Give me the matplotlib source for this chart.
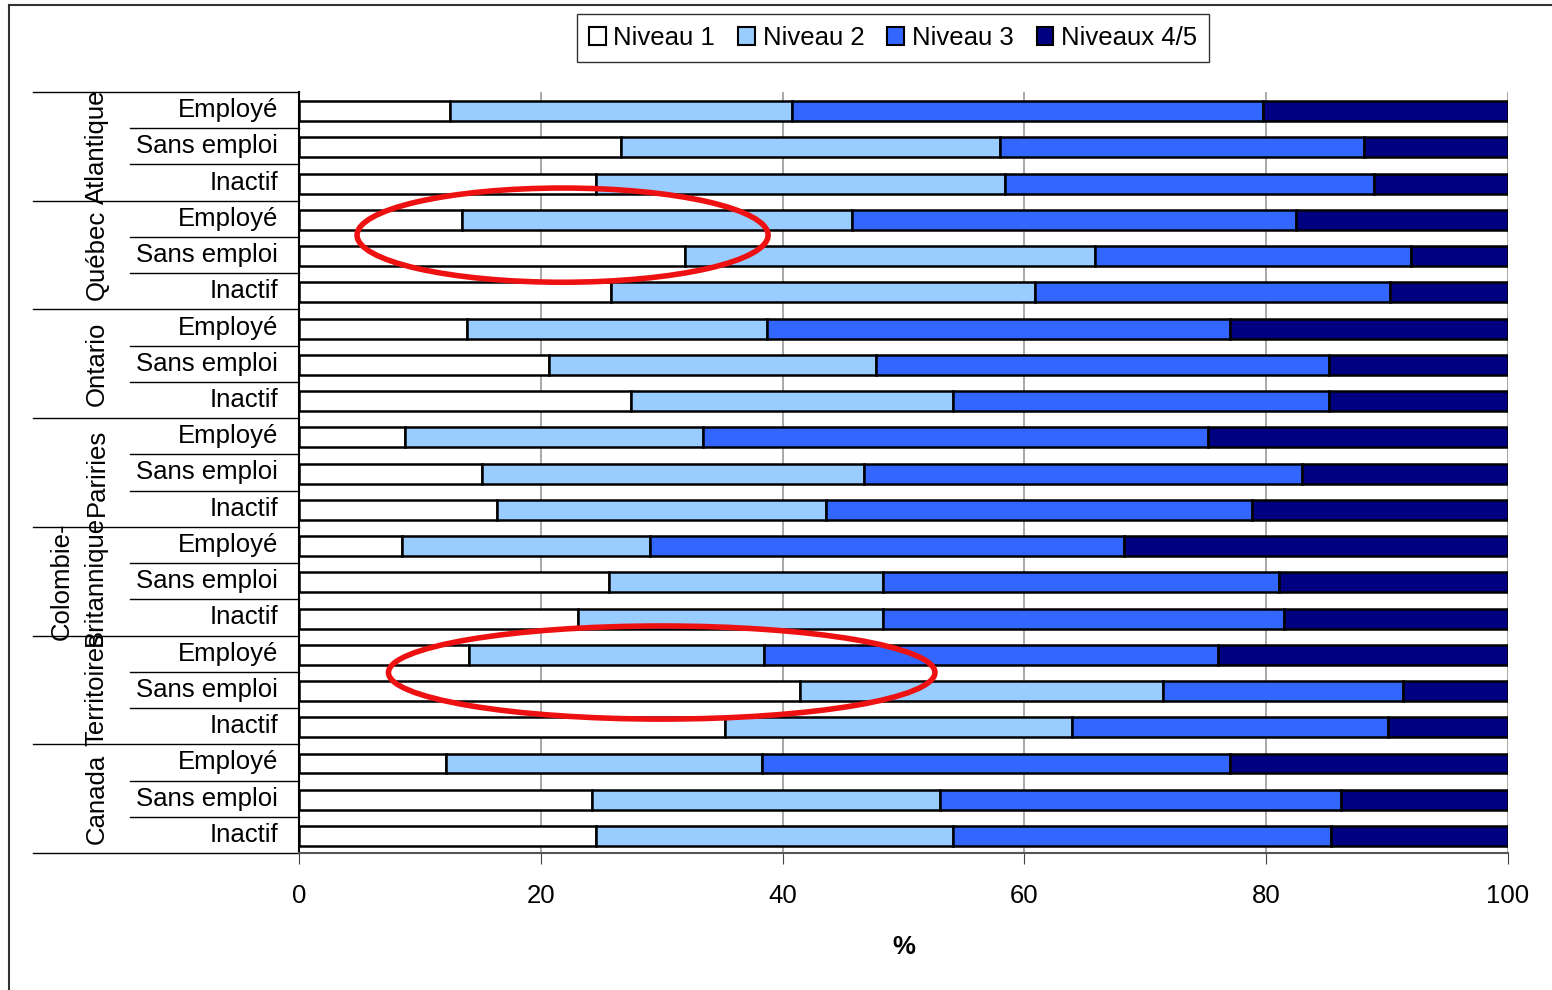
import numpy as np
import matplotlib
matplotlib.use("Agg")
import matplotlib.pyplot as plt
from matplotlib.patches import Ellipse, Patch
from matplotlib.lines import Line2D
import matplotlib.transforms as mtransforms

plt.rcParams['font.family'] = ['Liberation Sans', 'DejaVu Sans']

groups = ['Atlantique', 'Québec', 'Ontario', 'Pariries', 'Colombie-\nBritannique', 'Territoires', 'Canada']
statuses = ['Employé', 'Sans emploi', 'Inactif']
series = ['Niveau 1', 'Niveau 2', 'Niveau 3', 'Niveaux 4/5']
colors = ['#FFFFFF', '#99CCFF', '#3366FF', '#000080']

# cumulative boundaries (end of Niveau 1, 2, 3); Niveaux 4/5 runs to 100
cum1 = [12.5, 26.6, 24.6, 13.5, 31.9, 25.8, 13.9, 20.7, 27.5, 8.8, 15.1, 16.4,
        8.5, 25.6, 23.1, 14.1, 41.4, 35.2, 12.2, 24.2, 24.6]
cum2 = [40.8, 58.0, 58.4, 45.7, 65.8, 60.9, 38.7, 47.7, 54.1, 33.4, 46.7, 43.6,
        29.0, 48.3, 48.3, 38.5, 71.5, 63.9, 38.3, 53.0, 54.1]
cum3 = [79.7, 88.1, 88.9, 82.5, 92.0, 90.2, 77.0, 85.2, 85.2, 75.2, 83.0, 78.8,
        68.2, 81.1, 81.5, 76.0, 91.3, 90.1, 77.0, 86.2, 85.4]

c1 = np.array(cum1)
c2 = np.array(cum2)
c3 = np.array(cum3)
vals = [c1, c2 - c1, c3 - c2, 100 - c3]

FS = 18.5

fig = plt.figure(figsize=(15.52, 9.90), dpi=100)
ax = fig.add_axes([299/1552, 1-853/990, 1209/1552, 761/990])

y = np.arange(len(c1))
left = np.zeros(len(c1))
for v, col, name in zip(vals, colors, series):
    ax.barh(y + 0.03, v, left=left, height=0.55, color=col, edgecolor='black', linewidth=1.8, label=name, zorder=3)
    left = left + v

ax.set_xlim(0, 100)
ax.set_ylim(len(c1) - 0.5, -0.5)
ax.set_xticks([0, 20, 40, 60, 80, 100])
ax.tick_params(axis='x', labelsize=FS, colors='#444444', length=8, direction='out', pad=14, labelcolor='black')
ax.set_yticks([])
ax.xaxis.grid(True, color='#999999', linewidth=1.2, zorder=0)
for s in ['top', 'right']:
    ax.spines[s].set_visible(False)
ax.spines['left'].set_linewidth(1.5)
ax.spines['bottom'].set_color('#555555')
ax.spines['bottom'].set_linewidth(1.5)
ax.set_xlabel('%', fontsize=FS, fontweight='bold', labelpad=20)

# category axis: labels and separators
trans = mtransforms.blended_transform_factory(ax.transAxes, ax.transData)
for i in range(len(c1)):
    ax.text(-0.0174, i, statuses[i % 3], transform=trans, ha='right', va='center', fontsize=FS)
    if i % 3 != 0:
        ax.add_line(Line2D([-0.1398, 0], [i - 0.5, i - 0.5], transform=trans, color='black', linewidth=1, clip_on=False))
for g in range(len(groups) + 1):
    ax.add_line(Line2D([-0.22, 0], [3*g - 0.5, 3*g - 0.5], transform=trans, color='black', linewidth=1, clip_on=False))
for g, name in enumerate(groups):
    gx = -0.1824 if '\n' in name else -0.1672
    ax.text(gx, 3*g + 1, name, transform=trans, ha='center', va='center', rotation=90,
            fontsize=FS, linespacing=1.45, multialignment='center')

# red highlight ellipses
for cx, cy, w, h in [(21.8, 3.45, 34.0, 2.6), (30.0, 15.52, 45.2, 2.57)]:
    ax.add_patch(Ellipse((cx, cy), w, h, fill=False, edgecolor='#EE1111', linewidth=4, zorder=5, clip_on=False))

handles = [Patch(facecolor=c, edgecolor='black', linewidth=1.5) for c in colors]
fig.legend(handles, series, loc='center', bbox_to_anchor=(893/1552, 1-38/990), ncol=4, fontsize=FS,
           frameon=True, fancybox=False, edgecolor='black', handlelength=0.65, handleheight=0.65,
           handletextpad=0.3, columnspacing=0.9, borderpad=0.45)

# outer frame (left and top edges visible)
fig.add_artist(Line2D([9/1552, 9/1552], [0, 1-5/990], transform=fig.transFigure, color='#333333', linewidth=1.5))
fig.add_artist(Line2D([9/1552, 1], [1-5/990, 1-5/990], transform=fig.transFigure, color='#333333', linewidth=1.5))

fig.savefig('out.png', dpi=100)
